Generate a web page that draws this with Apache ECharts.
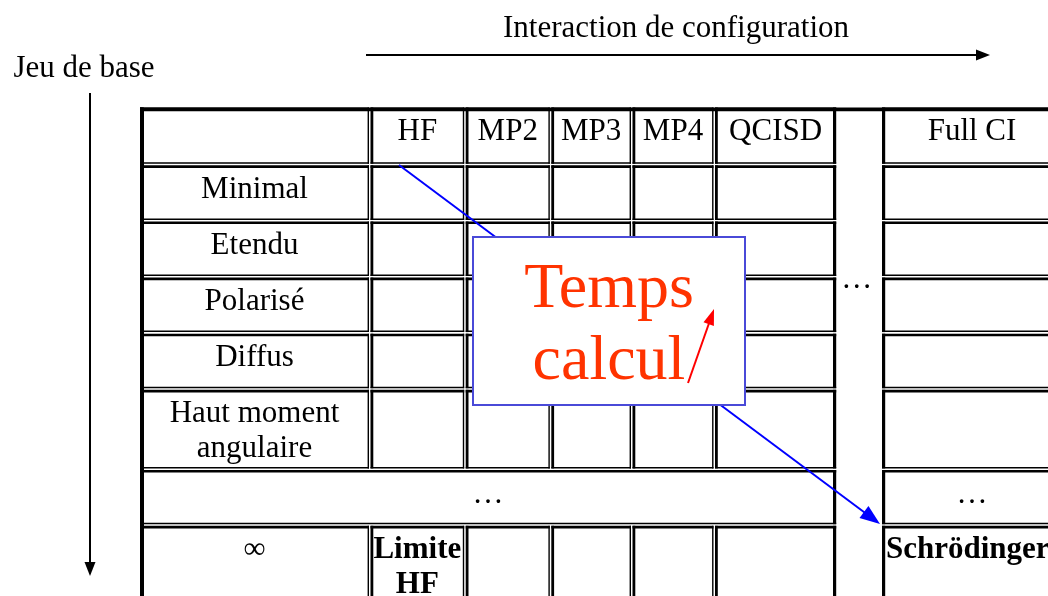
<!DOCTYPE html>
<html><head><meta charset="utf-8">
<script src="https://cdn.jsdelivr.net/npm/echarts@6/dist/echarts.min.js"></script>
<style>html,body{margin:0;padding:0;background:#fff}#c{width:1048px;height:596px}</style>
</head><body><div id="c"></div>
<script>
// ---------------- data ----------------
const methods = ['HF', 'MP2', 'MP3', 'MP4', 'QCISD', '', 'Full CI'];
const basisSets = ['Minimal', 'Etendu', 'Polarisé', 'Diffus', 'Haut moment\nangulaire', '…', '∞'];
const limits = ['Limite\nHF', 'Schrödinger'];
const ellipsis = '…';
const axisTitles = ['Interaction de configuration', 'Jeu de base'];
const annotationLines = ['Temps', 'calcul'];

// ---------------- layout (axis units = pixels) ----------------
const colX = [140, 370.5, 465.7, 551.3, 632.5, 715, 833, 882, 1062];
const rowY = [107.5, 165.3, 221.5, 277.6, 333.7, 389.8, 470, 525.8, 660];
const GAPX = 1.5, GAPY = 1.6, T_TOP = 2.6, T_LEFT = 2.8, T_BOTTOM = 1.5, T_RIGHT = 1.4;
const FONT = '"Liberation Serif","Times New Roman",serif';
const FS = 31, LH = 35, TEXT_DY = 7;

const cells = [];
function addCell(r0, r1, c0, c1, text, opt) {
  opt = opt || {};
  const x0 = colX[c0];
  const x1 = (c1 === 5) ? colX[6] + 3.2 : (c1 === 7 ? colX[8] : colX[c1 + 1] - GAPX);
  const y0 = rowY[r0];
  const y1 = rowY[r1 + 1] - GAPY;
  cells.push({
    x0, x1, y0, y1, text,
    bold: !!opt.bold, align: opt.align || 'center',
    border: opt.border !== false,
    tRight: c1 === 5 ? 3.2 : T_RIGHT,
    tLeft: c0 === 7 ? 3.2 : T_LEFT,
    dy: opt.dy != null ? opt.dy : TEXT_DY
  });
}
// header row
addCell(0, 0, 0, 0, '');
for (let i = 0; i < 5; i++) addCell(0, 0, i + 1, i + 1, methods[i]);
addCell(0, 0, 7, 7, methods[6]);
// basis-set rows
for (let r = 0; r < 5; r++) {
  addCell(r + 1, r + 1, 0, 0, basisSets[r]);
  for (let c = 1; c <= 5; c++) addCell(r + 1, r + 1, c, c, '');
  addCell(r + 1, r + 1, 7, 7, '');
}
// ellipsis row
addCell(6, 6, 0, 5, basisSets[5]);
addCell(6, 6, 7, 7, ellipsis);
// infinite basis row
addCell(7, 7, 0, 0, basisSets[6]);
addCell(7, 7, 1, 1, limits[0], {bold: true});
for (let c = 2; c <= 5; c++) addCell(7, 7, c, c, '');
addCell(7, 7, 7, 7, limits[1], {bold: true, align: 'left'});
// ellipsis column (no borders)
addCell(0, 7, 6, 6, ellipsis, {border: false, dy: 155});

// arrows: [x1, y1, x2, y2]
const arrows = [
  {p: [366, 55, 990, 55], color: '#000', w: 2, hl: 14, hw: 11},
  {p: [90, 93, 90, 576], color: '#000', w: 2, hl: 14, hw: 11},
  {p: [399, 165, 880, 524], color: '#0000ff', w: 2, hl: 20, hw: 15},
  {p: [688, 383, 714, 309], color: '#ff0000', w: 2, hl: 16, hw: 11}
];
const box = [473, 237, 745, 405];
const titlePos = [[676, 29], [84, 69]];

// ---------------- chart ----------------
function blk(x, y, w, h) { return {type: 'rect', shape: {x, y, width: w, height: h}, style: {fill: '#000'}}; }
function arrowShape(A, s, e) {
  const dx = e[0] - s[0], dy = e[1] - s[1], L = Math.hypot(dx, dy);
  const ux = dx / L, uy = dy / L, nx = -uy, ny = ux;
  const bx = e[0] - ux * A.hl, by = e[1] - uy * A.hl;
  return [
    {type: 'line', shape: {x1: s[0], y1: s[1], x2: bx + ux * 2, y2: by + uy * 2},
      style: {stroke: A.color, lineWidth: A.w}},
    {type: 'polygon', shape: {points: [[e[0], e[1]],
      [bx + nx * A.hw / 2, by + ny * A.hw / 2], [bx - nx * A.hw / 2, by - ny * A.hw / 2]]},
      style: {fill: A.color}}
  ];
}

const chart = echarts.init(document.getElementById('c'), null, {renderer: 'canvas'});
chart.setOption({
  animation: false,
  backgroundColor: '#fff',
  grid: {left: 0, right: 0, top: 0, bottom: 0},
  xAxis: {type: 'value', min: 0, max: 1048, show: false},
  yAxis: {type: 'value', min: 0, max: 596, inverse: true, show: false},
  series: [
    { // table
      type: 'custom', z: 1, silent: true, clip: false,
      data: cells.map(c => [c.x0, c.y0, c.x1, c.y1]),
      renderItem(params, api) {
        const c = cells[params.dataIndex];
        const a = api.coord([api.value(0), api.value(1)]);
        const b = api.coord([api.value(2), api.value(3)]);
        const x0 = a[0], y0 = a[1], x1 = b[0], y1 = b[1], w = x1 - x0, h = y1 - y0;
        const kids = [];
        if (c.border) {
          kids.push(blk(x0, y0, w, T_TOP));
          kids.push(blk(x0, y0, c.tLeft, h));
          kids.push(blk(x0, y1 - T_BOTTOM, w, T_BOTTOM));
          kids.push(blk(x1 - c.tRight, y0, c.tRight, h));
        }
        if (c.text) {
          kids.push({type: 'text', style: {
            text: c.text,
            x: c.align === 'left' ? x0 + 4 : (x0 + x1) / 2,
            y: y0 + c.dy,
            align: c.align, verticalAlign: 'top',
            font: (c.bold ? 'bold ' : '') + FS + 'px ' + FONT,
            lineHeight: LH, fill: '#000'
          }});
        }
        return {type: 'group', children: kids};
      }
    },
    { // table outer border (top + left)
      type: 'custom', z: 2, silent: true, clip: false,
      data: [[colX[0], rowY[0], colX[8], rowY[8]]],
      renderItem(params, api) {
        const a = api.coord([api.value(0), api.value(1)]);
        const b = api.coord([api.value(2), api.value(3)]);
        return {type: 'group', children: [
          blk(a[0], a[1], b[0] - a[0], 3.8),
          blk(a[0], a[1], 4, b[1] - a[1])
        ]};
      }
    },
    { // axis titles
      type: 'custom', z: 2, silent: true, clip: false,
      data: titlePos,
      renderItem(params, api) {
        const p = api.coord([api.value(0), api.value(1)]);
        return {type: 'text', style: {text: axisTitles[params.dataIndex], x: p[0], y: p[1],
          align: 'center', verticalAlign: 'middle', font: FS + 'px ' + FONT, fill: '#000'}};
      }
    },
    { // axis arrows + blue arrow
      type: 'custom', silent: true, clip: false, z: 3,
      data: arrows.slice(0, 3).map(a => a.p),
      renderItem(params, api) {
        const A = arrows[params.dataIndex];
        const s = api.coord([api.value(0), api.value(1)]);
        const e = api.coord([api.value(2), api.value(3)]);
        return {type: 'group', children: arrowShape(A, s, e)};
      }
    },
    { // box with annotation
      type: 'custom', z: 4, silent: true, clip: false,
      data: [box],
      renderItem(params, api) {
        const a = api.coord([api.value(0), api.value(1)]);
        const b = api.coord([api.value(2), api.value(3)]);
        return {type: 'group', children: [
          {type: 'rect', shape: {x: a[0], y: a[1], width: b[0] - a[0], height: b[1] - a[1]},
            style: {fill: '#fff', stroke: '#4a4ad8', lineWidth: 2}},
          {type: 'text', style: {text: annotationLines.join('\n'), x: (a[0] + b[0]) / 2, y: (a[1] + b[1]) / 2 + 5,
            align: 'center', verticalAlign: 'middle', font: '64px ' + FONT, lineHeight: 72, fill: '#ff3300'}}
        ]};
      }
    },
    { // red arrow on top of the box
      type: 'custom', z: 5, silent: true, clip: false,
      data: [arrows[3].p],
      renderItem(params, api) {
        const s = api.coord([api.value(0), api.value(1)]);
        const e = api.coord([api.value(2), api.value(3)]);
        return {type: 'group', children: arrowShape(arrows[3], s, e)};
      }
    }
  ]
});
</script></body></html>
